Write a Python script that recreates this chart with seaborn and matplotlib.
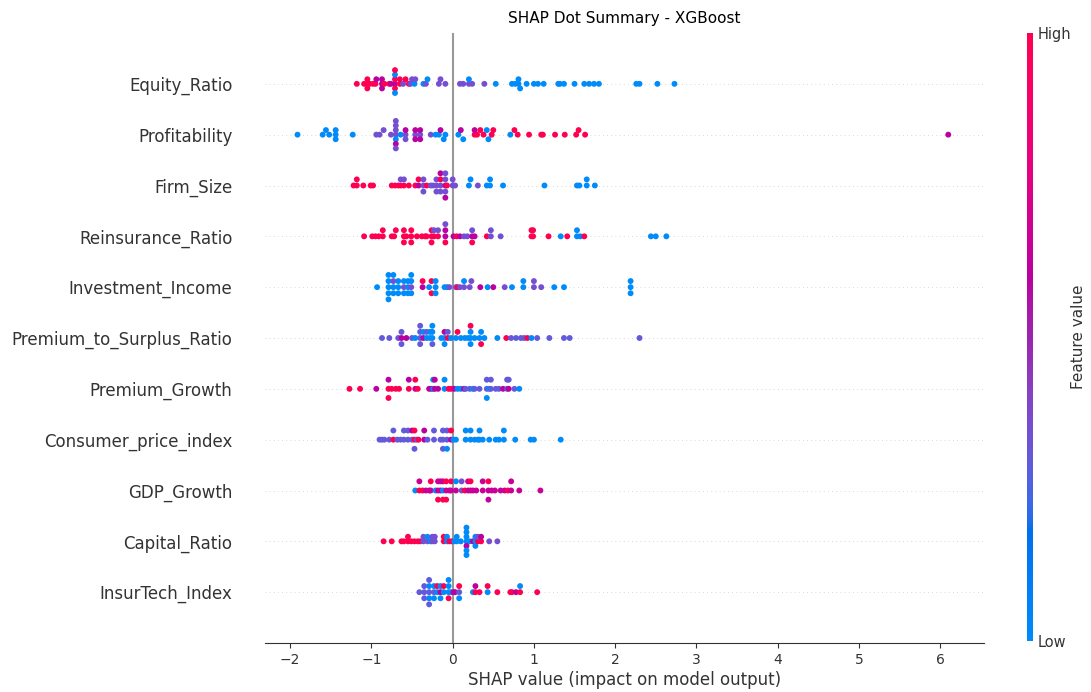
import numpy as np
import pandas as pd
import matplotlib
matplotlib.use("Agg")
import matplotlib.pyplot as plt
import seaborn as sns
from matplotlib.colors import LinearSegmentedColormap, Normalize
from matplotlib.cm import ScalarMappable

# ---------------- data ----------------
features = ["Equity_Ratio", "Profitability", "Firm_Size", "Reinsurance_Ratio",
            "Investment_Income", "Premium_to_Surplus_Ratio", "Premium_Growth",
            "Consumer_price_index", "GDP_Growth", "Capital_Ratio", "InsurTech_Index"]

equity_shap = [-1.18, -1.09, -1.05, -1.05, -1.05, -1.02, -0.98, -0.95, -0.94, -0.87, -0.87, -0.87,
               -0.84, -0.78, -0.76, -0.71, -0.71, -0.71, -0.71, -0.71, -0.71, -0.65, -0.65,
               -0.61, -0.58, -0.54, -0.52, -0.50, -0.47, -0.46, -0.36, -0.33, -0.31, -0.17, -0.15,
               -0.09, 0.09, 0.13, 0.20, 0.20, 0.24, 0.39, 0.53, 0.73, 0.77, 0.81, 0.81, 0.83, 0.91,
               1.00, 1.05, 1.12, 1.30, 1.32, 1.37, 1.50, 1.62, 1.68, 1.74, 1.80, 2.26, 2.30, 2.52, 2.73]
equity_val = [1, 1, 1, 1, 1, 1, 1, 1, 0.6, 0.6, 0.6, 0.6, 1, 1, 0.6, 0.6, 1, 1, 0, 0, 1, 1, 1,
              0.35, 1, 1, 0.35, 0.35, 0, 0.35, 0, 0.35, 0, 0.35, 0.35, 0.35, 0.35, 0.35, 0.35, 0,
              0.35, 0.35, 0] + [0] * 21

profit_shap = [-1.91, -1.60, -1.56, -1.52, -1.44, -1.44, -1.44, -1.23, -0.94, -0.90, -0.85, -0.76,
               -0.70, -0.70, -0.70, -0.70, -0.70, -0.70, -0.70, -0.64, -0.58, -0.58, -0.58,
               -0.46, -0.46, -0.46, -0.40, -0.40, -0.40, -0.27, -0.21, -0.17, -0.15, -0.11, -0.09,
               0.07, 0.10, 0.13, 0.27, 0.27, 0.30, 0.34, 0.38, 0.42, 0.44, 0.48, 0.50, 0.71,
               0.76, 0.80, 0.94, 1.09, 1.11, 1.26, 1.38, 1.52, 1.55, 1.63, 6.10]
profit_val = [0, 0, 0, 0, 0, 0, 0, 0, 0.35, 0.35, 0.35, 0.35,
              0.35, 0.35, 0, 0.35, 0.6, 0.35, 0.35, 0, 0.35, 0.6, 0.35,
              0.35, 0.6, 0.6, 0.35, 0.6, 0.6, 0.35, 0, 0, 0.6, 0, 0,
              0, 0.6, 0, 1, 0.6, 1, 1, 1, 0, 0, 1, 1, 0,
              1, 1, 1, 1, 1, 1, 1, 1, 1, 1, 0.6]

firm_shap = [-1.22, -1.18, -1.18, -1.10, -1.01, -0.98, -0.75, -0.71, -0.67, -0.64, -0.64, -0.60,
             -0.60, -0.54, -0.46, -0.42, -0.42, -0.36, -0.36, -0.36, -0.32, -0.27, -0.24, -0.20,
             -0.20, -0.20, -0.15, -0.15, -0.15, -0.15, -0.09, -0.09, -0.09, -0.09, -0.09, -0.07,
             0.00, 0.00, 0.03, 0.20, 0.22, 0.31, 0.42, 0.46, 0.46, 0.62, 1.13, 1.53, 1.56, 1.65,
             1.65, 1.75]
firm_val = [1, 1, 1, 1, 1, 1, 1, 1, 1, 1, 0.35, 1, 0.35, 1, 1, 0.6, 1, 0.35, 0.35, 0.35, 1, 0.35,
            0.35, 0.35, 0.35, 0.35, 0.35, 1, 0.35, 0.6, 0.6, 0.35, 0.35, 0.35, 0.6, 1, 0.35, 0.35,
            0.35, 0, 0, 0.35, 0, 0, 0, 0, 0, 0, 0, 0, 0, 0]

reins_shap = [-1.09, -0.99, -0.95, -0.91, -0.86, -0.86, -0.75, -0.72, -0.70, -0.60, -0.60, -0.60,
              -0.57, -0.51, -0.51, -0.51, -0.44, -0.38, -0.34, -0.32, -0.26, -0.26, -0.26, -0.23,
              -0.23, -0.18, -0.18, -0.09, -0.09, -0.09, -0.09, 0.01, 0.05, 0.09, 0.14, 0.18, 0.24,
              0.24, 0.24, 0.27, 0.42, 0.47, 0.47, 0.59, 0.97, 0.97, 0.99, 0.99, 1.18, 1.33, 1.41,
              1.53, 1.53, 1.57, 1.62, 2.44, 2.50, 2.63]
reins_val = [1, 1, 1, 1, 1, 1, 1, 1, 1, 1, 1, 1, 1, 1, 1, 1, 1, 1, 1, 1, 1, 1, 1, 1, 0.35, 1, 0.35,
             0.6, 0.6, 1, 0.35, 0.6, 1, 0.6, 0.35, 0.35, 0.6, 0.35, 1, 0.6, 1, 0.35, 0.35, 0.35,
             1, 1, 1, 1, 1, 0, 1, 0, 0, 0, 1, 0, 0, 0]

invest_shap = [-0.93, -0.79, -0.79, -0.79, -0.79, -0.79, -0.73, -0.73, -0.73, -0.73, -0.67, -0.67,
               -0.67, -0.60, -0.60, -0.60, -0.55, -0.55, -0.55, -0.51, -0.51, -0.51, -0.51, -0.37,
               -0.37, -0.29, -0.26, -0.26, -0.21, -0.21, -0.21, -0.10, -0.07, -0.04, 0.04, 0.06,
               0.09, 0.14, 0.14, 0.21, 0.23, 0.34, 0.43, 0.50, 0.64, 0.73, 0.87, 0.87, 1.00, 1.00,
               1.09, 1.25, 1.37, 2.19, 2.19, 2.19]
invest_val = [0, 0, 0, 0, 0, 0, 0, 0.35, 0, 0, 0, 0, 0, 0.35, 0, 0, 0, 0, 0, 0.35, 0, 0, 0, 0.6,
              1, 0, 1, 1, 0, 0, 0, 0, 0, 0.35, 0.35, 1, 0.35, 0.35, 0, 0.35, 0.35, 0.6, 0, 0.6,
              0.35, 0, 0, 0, 0.35, 0.35, 0.35, 0, 0, 0, 0, 0]

pts_shap = [-0.87, -0.78, -0.67, -0.63, -0.63, -0.63, -0.57, -0.50, -0.46, -0.40, -0.40, -0.40,
            -0.40, -0.36, -0.36, -0.32, -0.32, -0.28, -0.28, -0.25, -0.25, -0.25, -0.25, -0.14,
            -0.10, -0.10, -0.10, -0.06, -0.06, -0.02, 0.04, 0.06, 0.10, 0.15, 0.19, 0.22, 0.22,
            0.22, 0.22, 0.27, 0.33, 0.35, 0.35, 0.39, 0.55, 0.66, 0.72, 0.78, 0.84, 0.88, 0.92,
            0.97, 1.04, 1.19, 1.37, 1.44, 2.30]
pts_val = [0.3, 0.3, 0.3, 0.6, 0.3, 0.3, 0.6, 0.3, 0, 0.3, 0.3, 0.3, 0.3, 0.6, 0, 0, 0.3, 0, 0,
           0, 0, 0.3, 0, 0, 0, 0.6, 0, 1, 0.3, 0, 0, 1, 0, 0, 0, 0, 0, 0, 1, 0, 0, 0, 1, 0, 0, 1,
           0.3, 0.3, 0.3, 0.3, 1, 0, 0.3, 0.3, 0.3, 0.3, 0.3]

growth_shap = [-1.27, -1.14, -0.94, -0.79, -0.79, -0.79, -0.75, -0.70, -0.66, -0.54, -0.54, -0.46,
               -0.46, -0.43, -0.29, -0.26, -0.24, -0.24, -0.22, -0.22, -0.18, -0.10, -0.10, -0.05,
               -0.02, 0.02, 0.06, 0.10, 0.14, 0.16, 0.21, 0.25, 0.27, 0.33, 0.42, 0.42, 0.42, 0.45,
               0.47, 0.47, 0.53, 0.57, 0.62, 0.67, 0.67, 0.69, 0.69, 0.76, 0.82]
growth_val = [1, 1, 0.6, 1, 0.6, 1, 1, 1, 1, 1, 0.6, 0.6, 1, 1, 0.6, 0.6, 0, 0, 0.6, 0.6, 0.6, 0,
              0, 1, 1, 0.6, 0, 0, 0.6, 0.3, 0.3, 0, 0.3, 0.3, 0.3, 0.3, 0, 0, 0.3, 0.3, 0.3, 0.3,
              0.6, 0.3, 0.3, 0.6, 0.3, 0.3, 0]

cpi_shap = [-0.90, -0.87, -0.84, -0.78, -0.73, -0.73, -0.68, -0.64, -0.60, -0.60, -0.55, -0.55,
            -0.50, -0.50, -0.47, -0.47, -0.47, -0.44, -0.42, -0.35, -0.35, -0.31, -0.23, -0.23,
            -0.15, -0.12, -0.12, -0.12, -0.07, -0.07, -0.07, -0.02, -0.02, 0.01, 0.04, 0.16, 0.16,
            0.22, 0.22, 0.27, 0.31, 0.33, 0.33, 0.37, 0.45, 0.53, 0.57, 0.63, 0.63, 0.77, 0.96,
            1.00, 1.33]
cpi_val = [0.3, 0.3, 0.3, 0.3, 1, 0.3, 0.3, 0.3, 0.3, 0.3, 0.3, 0.3, 0.3, 0.6, 1, 1, 0.3, 0.3, 1,
           0.6, 0.6, 0.3, 0.3, 0.3, 0.3, 0.3, 0.3, 0.3, 0.3, 0.3, 0, 0.6, 1, 0, 0, 0, 0, 0, 0, 0,
           0, 0, 0, 0, 0, 0, 0, 0, 0, 0, 0, 0, 0]

gdp_shap = [-0.46, -0.41, -0.41, -0.37, -0.33, -0.29, -0.27, -0.27, -0.21, -0.18, -0.18, -0.18,
            -0.15, -0.15, -0.12, -0.12, -0.12, -0.08, -0.08, -0.08, -0.04, -0.02, -0.02, 0.04,
            0.04, 0.11, 0.11, 0.15, 0.19, 0.19, 0.22, 0.22, 0.25, 0.29, 0.37, 0.37, 0.44, 0.44,
            0.44, 0.48, 0.52, 0.59, 0.64, 0.68, 0.72, 0.72, 0.82, 1.08]
gdp_val = [0, 1, 0.65, 1, 0.65, 0.65, 0.65, 1, 0, 0.65, 0.65, 1, 0.65, 0.65, 0, 0.65, 1, 0.65, 1,
           1, 0.65, 0.65, 1, 0.65, 0, 0.35, 0.35, 1, 0.65, 0.65, 0.65, 1, 0.65, 0.65, 0.65, 0.65,
           0.65, 1, 0.65, 0.65, 0.65, 0.65, 0.65, 1, 0.65, 0.65, 0.65, 0.65]

capital_shap = [-0.85, -0.75, -0.63, -0.60, -0.55, -0.55, -0.51, -0.47, -0.43, -0.40, -0.36,
                -0.36, -0.31, -0.31, -0.27, -0.25, -0.25, -0.22, -0.22, -0.11, -0.11, -0.07,
                -0.07, -0.04, -0.01, 0.02, 0.05, 0.05, 0.10, 0.17, 0.17, 0.17, 0.17, 0.17, 0.17,
                0.17, 0.21, 0.25, 0.28, 0.28, 0.28, 0.31, 0.31, 0.35, 0.35, 0.45, 0.55]
capital_val = [1, 1, 1, 1, 1, 1, 1, 1, 1, 1, 0.35, 0.35, 0.35, 0, 0, 0.35, 0.35, 0.35, 0.35, 1, 1,
               0, 0, 1, 1, 0, 0, 0, 0, 0, 0, 0.6, 0, 0, 0, 0, 0, 0.6, 0, 0, 0, 1, 0.35, 1, 0.6,
               0.35, 0.35]

insur_shap = [-0.41, -0.35, -0.35, -0.35, -0.29, -0.29, -0.29, -0.29, -0.29, -0.23, -0.23, -0.23,
              -0.19, -0.19, -0.15, -0.15, -0.15, -0.11, -0.11, -0.05, -0.05, -0.05, -0.05, -0.02,
              0.01, 0.03, 0.08, 0.08, 0.08, 0.25, 0.28, 0.28, 0.33, 0.43, 0.43, 0.55, 0.71, 0.73,
              0.78, 0.83, 0.83, 1.04]
insur_val = [0.3, 0.3, 0.3, 0.3, 0.3, 0, 0, 0.3, 0.3, 0.3, 0, 0, 0, 1, 0.6, 0, 0, 0, 1, 0, 0, 1, 0,
             0, 0.6, 0.6, 0.3, 1, 0, 0, 1, 0.6, 1, 0, 1, 1, 1, 1, 0.6, 1, 0, 1]

shap_lists = [equity_shap, profit_shap, firm_shap, reins_shap, invest_shap, pts_shap,
              growth_shap, cpi_shap, gdp_shap, capital_shap, insur_shap]
val_lists = [equity_val, profit_val, firm_val, reins_val, invest_val, pts_val,
             growth_val, cpi_val, gdp_val, capital_val, insur_val]


# ---------------- SHAP red-blue colormap (LCH interpolation) ----------------
def shap_red_blue():
    blue_lch = [54., 70., 4.6588]
    l_mid = 40.
    red_lch = [54., 90., 0.35470565 + 2 * np.pi]
    n = 100
    L = np.r_[np.linspace(blue_lch[0], l_mid, n // 2), np.linspace(l_mid, red_lch[0], n // 2)]
    C = np.linspace(blue_lch[1], red_lch[1], n)
    H = np.linspace(blue_lch[2], red_lch[2], n)
    a = C * np.cos(H)
    b = C * np.sin(H)
    fy = (L + 16) / 116
    fx = fy + a / 500
    fz = fy - b / 200

    def finv(t):
        return np.where(t > 6 / 29, t ** 3, 3 * (6 / 29) ** 2 * (t - 4 / 29))

    X = 0.95047 * finv(fx)
    Y = finv(fy)
    Z = 1.08883 * finv(fz)
    R = 3.2406 * X - 1.5372 * Y - 0.4986 * Z
    G = -0.9689 * X + 1.8758 * Y + 0.0415 * Z
    B = 0.0557 * X - 0.2040 * Y + 1.0570 * Z
    rgb = np.stack([R, G, B], axis=1)
    rgb = np.clip(rgb, 0, 1)
    rgb = np.where(rgb <= 0.0031308, 12.92 * rgb, 1.055 * rgb ** (1 / 2.4) - 0.055)
    rgb = np.clip(rgb, 0, 1)
    return LinearSegmentedColormap.from_list("shap_red_blue", rgb)


cmap = shap_red_blue()


def beeswarm_offsets(values, row_height=0.4, nbins=100):
    v = np.asarray(values, dtype=float)
    quant = np.round(nbins * (v - v.min()) / (v.max() - v.min() + 1e-8))
    inds = np.argsort(quant, kind="stable")
    ys = np.zeros(len(v))
    layer, last = 0, None
    for i in inds:
        if quant[i] != last:
            layer = 0
        ys[i] = np.ceil(layer / 2) * ((layer % 2) * 2 - 1)
        layer += 1
        last = quant[i]
    ys *= 0.9 * (row_height / np.max(ys + 1))
    return ys


n = len(features)
rows = []
for i, (name, sv, fv) in enumerate(zip(features, shap_lists, val_lists)):
    assert len(sv) == len(fv), (name, len(sv), len(fv))
    pos = n - 1 - i
    offs = beeswarm_offsets(sv)
    for s, f, o in zip(sv, fv, offs):
        rows.append({"feature": name, "shap": s, "value": f, "ypos": pos + o})
df = pd.DataFrame(rows)

# ---------------- figure ----------------
W, H = 1091, 692
fig = plt.figure(figsize=(W / 100, H / 100), dpi=100)
ax = fig.add_axes([265 / W, 49 / H, 719 / W, 610 / H])

axis_color = "#333333"
for pos in range(n):
    ax.axhline(y=pos, color="#cccccc", lw=0.6, dashes=(1, 4), zorder=-1)
ax.axvline(x=0, color="#999999", lw=1.5, zorder=-1)

sns.scatterplot(data=df, x="shap", y="ypos", hue="value", palette=cmap, hue_norm=(0, 1),
                s=18, linewidth=0, alpha=1, legend=False, ax=ax, zorder=3)

ax.set_xlim(-2.31, 6.54)
ax.set_ylim(-1, n)
ax.set_yticks(range(n))
ax.set_yticklabels(features[::-1], fontsize=12, color=axis_color)
ax.yaxis.set_ticks_position("none")
ax.tick_params(axis="y", pad=20)
ax.xaxis.set_ticks_position("bottom")
ax.tick_params(axis="x", labelsize=10, color=axis_color, labelcolor=axis_color)
for sp in ["top", "right", "left"]:
    ax.spines[sp].set_visible(False)
ax.spines["bottom"].set_color(axis_color)
ax.set_xlabel("SHAP value (impact on model output)", fontsize=12, color=axis_color, labelpad=3)
ax.set_ylabel("")
ax.set_title("SHAP Dot Summary - XGBoost", fontsize=11, color="black", pad=7)

cax = fig.add_axes([1027 / W, 51 / H, 5.5 / W, 608 / H])
sm = ScalarMappable(norm=Normalize(0, 1), cmap=cmap)
cb = fig.colorbar(sm, cax=cax, ticks=[0, 1])
cb.set_ticklabels(["Low", "High"])
cb.ax.tick_params(labelsize=10.5, length=0, labelcolor=axis_color)
cb.set_label("Feature value", size=11, labelpad=0, color=axis_color)
cb.outline.set_visible(False)

fig.savefig("out.png", dpi=100)
